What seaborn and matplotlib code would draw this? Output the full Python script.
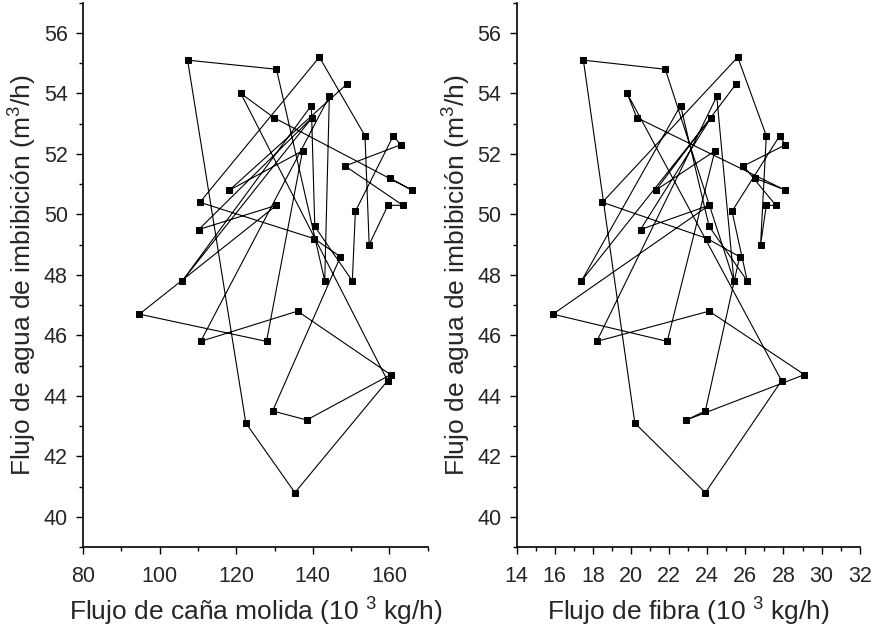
import pandas as pd
import seaborn as sns
from matplotlib import pyplot as plt
from matplotlib.ticker import MultipleLocator

# readings in time order
agua = [54.3, 50.8, 52.1, 45.8, 46.7, 50.3, 49.5, 53.2, 47.8, 53.6,
        49.6, 47.8, 50.1, 52.6, 52.3, 51.6, 50.3, 50.3, 49.0, 52.6,
        55.2, 50.4, 49.2, 48.6, 43.5, 43.2, 44.7, 46.8, 45.8, 53.9,
        47.8, 54.8, 55.1, 43.1, 40.8, 44.5, 54.0, 53.2, 50.8, 51.2]
cana = [148.8, 118.2, 137.3, 127.9, 94.7, 130.5, 110.2, 139.8, 105.9, 139.6,
        140.5, 150.3, 151.1, 161.0, 162.9, 148.4, 163.5, 159.6, 154.7, 153.6,
        141.7, 110.5, 140.3, 147.2, 129.5, 138.4, 160.3, 136.0, 110.7, 144.3,
        143.1, 130.5, 107.3, 122.5, 135.3, 159.5, 121.2, 129.8, 165.9, 160.1]
fibra = [25.5, 21.3, 24.4, 21.9, 15.9, 24.1, 20.5, 24.2, 17.4, 22.6,
         24.1, 26.1, 25.3, 27.8, 28.1, 25.9, 27.6, 27.1, 26.8, 27.1,
         25.6, 18.5, 24.0, 25.7, 23.9, 22.9, 29.1, 24.1, 18.2, 24.5,
         25.4, 21.8, 17.5, 20.2, 23.9, 27.9, 19.8, 20.3, 28.1, 26.5]

df = pd.DataFrame({'agua': agua, 'cana': cana, 'fibra': fibra})

sns.set_style('ticks')
plt.rcParams['font.family'] = ['Liberation Sans', 'DejaVu Sans']
plt.rcParams['mathtext.fontset'] = 'custom'
plt.rcParams['mathtext.rm'] = 'Liberation Sans'
plt.rcParams['mathtext.it'] = 'Liberation Sans'

fig = plt.figure(figsize=(8.75, 6.3), dpi=100)
ax1 = fig.add_axes([0.0949, 0.1317, 0.394, 0.864])
ax2 = fig.add_axes([0.5905, 0.1317, 0.392, 0.864])

style = dict(sort=False, estimator=None, marker='s', color='black',
             linewidth=0.8, markersize=5, markeredgecolor='black')

sns.lineplot(data=df, x='cana', y='agua', ax=ax1, **style)
sns.lineplot(data=df, x='fibra', y='agua', ax=ax2, **style)

ax1.set_xlim(80, 170)
ax1.xaxis.set_major_locator(MultipleLocator(20))
ax1.xaxis.set_minor_locator(MultipleLocator(10))
ax2.set_xlim(14, 32)
ax2.xaxis.set_major_locator(MultipleLocator(2))
ax2.xaxis.set_minor_locator(MultipleLocator(1))

ax1.set_xlabel('Flujo de caña molida (10 $^{3}$ kg/h)', fontsize=19, labelpad=6)
ax2.set_xlabel('Flujo de fibra (10 $^{3}$ kg/h)', fontsize=19, labelpad=6)

for ax in (ax1, ax2):
    ax.set_ylim(39, 57)
    ax.yaxis.set_major_locator(MultipleLocator(2))
    ax.yaxis.set_minor_locator(MultipleLocator(1))
    ax.set_ylabel('Flujo de agua de imbibición (m$^{3}$/h)', fontsize=19, labelpad=3)
    ax.tick_params(which='both', direction='out', labelsize=15.5, width=1, color='black')
    ax.tick_params(which='major', length=5, pad=6)
    ax.tick_params(which='minor', length=3)
    ax.tick_params(axis='x', which='major', pad=9)
    for s in ('left', 'bottom'):
        ax.spines[s].set_color('black')
        ax.spines[s].set_linewidth(1.2)
    sns.despine(ax=ax)

fig.savefig('out.png', dpi=100)
plt.close(fig)
